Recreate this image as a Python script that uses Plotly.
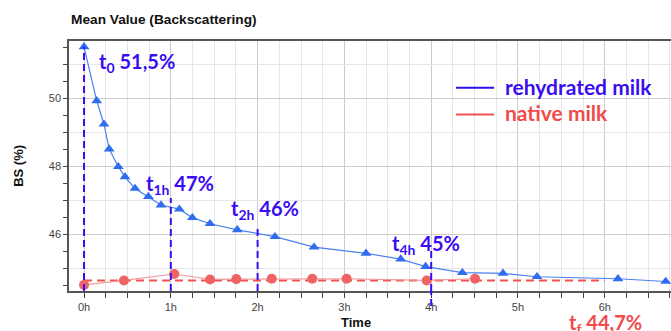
import plotly.graph_objects as go

# ---- data (hours, BS %) ----
rehydrated_t = [0.0, 0.146, 0.23, 0.29, 0.395, 0.472, 0.588, 0.741, 0.887, 1.098, 1.248, 1.452,
                1.766, 2.20, 2.65, 3.249, 3.649, 3.936, 4.359, 4.827, 5.219, 6.152, 6.702]
rehydrated_bs = [51.52, 49.93, 49.24, 48.51, 47.99, 47.69, 47.35, 47.11, 46.86, 46.74, 46.49, 46.31,
                 46.13, 45.93, 45.62, 45.44, 45.27, 45.05, 44.87, 44.85, 44.75, 44.69, 44.61]
native_t = [0.0, 0.46, 1.04, 1.452, 1.755, 2.163, 2.63, 3.026, 3.948, 4.505]
native_bs = [44.51, 44.64, 44.83, 44.67, 44.68, 44.69, 44.69, 44.69, 44.64, 44.69]
native_final_t = [0.0, 6.0]
native_final_bs = [44.64, 44.64]

mark_times = [0, 1, 2, 4]
mark_tops = [51.52, 47.07, 46.22, 45.51]
mark_labels = ["t<sub>0</sub> 51,5%", "t<sub>1h</sub> 47%", "t<sub>2h</sub> 46%", "t<sub>4h</sub> 45%"]
label_x = [0.146, 0.69, 1.665, 3.53]
label_y = [51.06, 47.47, 46.72, 45.7]

x_tickvals = [0, 1, 2, 3, 4, 5, 6]
x_ticktext = ["0h", "1h", "2h", "3h", "4h", "5h", "6h"]
y_tickvals = [46, 48, 50]

X_RANGE = [-0.173, 6.763]
Y_RANGE = [44.33, 51.69]

BLUE_LINE = "#4a80f2"
BLUE_MARK = "#2f6cf0"
VIOLET = "#3a0cf2"
RED_LINE = "#f29a9a"
RED_MARK = "#ee6464"
RED_TXT = "#f24a4a"
FONT_LBL = "Lato"

fig = go.Figure()

# red dashed reference line
fig.add_trace(go.Scatter(x=native_final_t, y=native_final_bs, mode="lines",
                         line=dict(color="#f25050", width=2, dash="8px,5px"),
                         showlegend=False, hoverinfo="skip"))
fig.add_trace(go.Scatter(x=native_t, y=native_bs, mode="lines+markers", name="native milk",
                         line=dict(color=RED_LINE, width=1.2),
                         marker=dict(symbol="circle", size=10, color=RED_MARK),
                         showlegend=False, cliponaxis=False))
fig.add_trace(go.Scatter(x=rehydrated_t, y=rehydrated_bs, mode="lines+markers", name="rehydrated milk",
                         line=dict(color=BLUE_LINE, width=1.2),
                         marker=dict(symbol="triangle-up", size=9.5, color=BLUE_MARK),
                         showlegend=False, cliponaxis=False))

# overlay axis for the light horizontal grid every 1 unit
fig.add_trace(go.Scatter(x=[None], y=[None], yaxis="y2", showlegend=False, hoverinfo="skip"))

shapes = []
for t, top in zip(mark_times, mark_tops):
    shapes.append(dict(type="line", xref="x", yref="y", x0=t, x1=t, y0=Y_RANGE[0], y1=top,
                       line=dict(color=VIOLET, width=2, dash="7px,4px"), layer="above"))
# 4h line continues below the axis
shapes.append(dict(type="line", xref="x", yref="paper", x0=mark_times[3], x1=mark_times[3], y0=-0.06, y1=0,
                   line=dict(color=VIOLET, width=2, dash="7px,4px"), layer="above"))
# legend lines
shapes.append(dict(type="line", xref="paper", yref="paper", x0=0.643, x1=0.706, y0=0.813, y1=0.813,
                   line=dict(color="#2a10ee", width=2)))
shapes.append(dict(type="line", xref="paper", yref="paper", x0=0.643, x1=0.706, y0=0.706, y1=0.706,
                   line=dict(color="#f25050", width=2)))

annotations = []
for lx, ly, txt in zip(label_x, label_y, mark_labels):
    annotations.append(dict(x=lx, y=ly, xref="x", yref="y", text=txt, showarrow=False,
                            xanchor="left", yanchor="middle",
                            font=dict(family=FONT_LBL, size=20, color=VIOLET, weight="bold")))
annotations += [
    dict(x=0.721, y=0.818, xref="paper", yref="paper", text="rehydrated milk", showarrow=False,
         xanchor="left", yanchor="middle", font=dict(family=FONT_LBL, size=21, color="#3a0cf2", weight="bold")),
    dict(x=0.721, y=0.714, xref="paper", yref="paper", text="native milk", showarrow=False,
         xanchor="left", yanchor="middle", font=dict(family=FONT_LBL, size=21, color=RED_TXT, weight="bold")),
    dict(x=0.827, y=-0.13, xref="paper", yref="paper", text="t<sub>f</sub> 44,7%", showarrow=False,
         xanchor="left", yanchor="middle", font=dict(family=FONT_LBL, size=20, color=RED_TXT, weight="bold")),
    dict(x=0.0, y=1.084, xref="paper", yref="paper", text="Mean Value (Backscattering)", showarrow=False,
         xanchor="left", yanchor="middle",
         font=dict(family="Liberation Sans, Arial", size=13.7, color="#111", weight="bold")),
    dict(x=-0.085, y=0.5, xref="paper", yref="paper", text="BS (%)", showarrow=False, textangle=-90,
         xanchor="center", yanchor="middle",
         font=dict(family="Liberation Sans, Arial", size=13, color="#111", weight="bold")),
    dict(x=0.477, y=-0.124, xref="paper", yref="paper", text="Time", showarrow=False,
         xanchor="center", yanchor="middle",
         font=dict(family="Liberation Sans, Arial", size=13, color="#111", weight="bold")),
]

fig.update_layout(
    width=671, height=331,
    margin=dict(l=69, r=0, t=41, b=40),
    paper_bgcolor="white", plot_bgcolor="white",
    shapes=shapes, annotations=annotations,
    xaxis=dict(range=X_RANGE, tickvals=x_tickvals, ticktext=x_ticktext,
               showgrid=True, gridcolor="#cccccc", gridwidth=1,
               ticks="outside", ticklen=5, tickcolor="#444", tickwidth=1,
               minor=dict(dtick=0.25, tick0=0, showgrid=True, gridcolor="#e6e6e6",
                          ticks="outside", ticklen=5, tickcolor="#444"),
               showline=True, linecolor="#555", linewidth=1.5, mirror=True,
               zeroline=False, tickfont=dict(family="Liberation Sans, Arial", size=11, color="#444")),
    yaxis=dict(range=Y_RANGE, tickvals=y_tickvals, showgrid=True, gridcolor="#cccccc",
               ticks="outside", ticklen=4, tickcolor="#444",
               minor=dict(dtick=0.5, tick0=44, showgrid=False, ticks="outside", ticklen=4, tickcolor="#444"),
               showline=True, linecolor="#555", linewidth=1.5, zeroline=False,
               tickfont=dict(family="Liberation Sans, Arial", size=11, color="#444")),
    yaxis2=dict(range=Y_RANGE, overlaying="y", tickvals=[45, 47, 49, 51], showticklabels=False,
                showgrid=True, gridcolor="#e6e6e6", ticks="", zeroline=False, showline=False),
)

fig.write_html("out.html", config={"displayModeBar": False},
               post_script="document.body.style.margin='0';document.body.style.overflow='hidden';")
